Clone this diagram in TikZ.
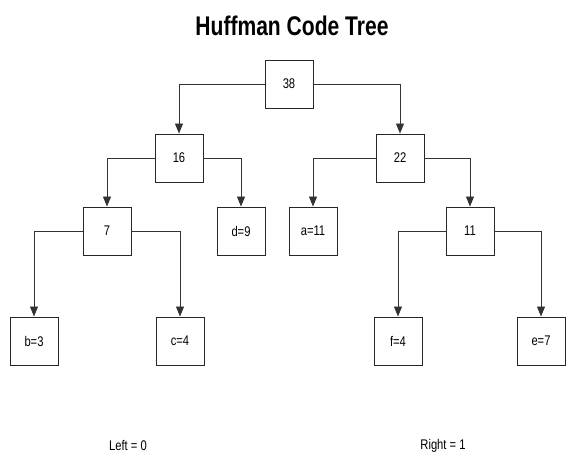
\documentclass[tikz,border=0pt]{standalone}
\usepackage{fontspec}
\usepackage{graphicx}
\setmainfont{Liberation Sans}
\usetikzlibrary{arrows.meta}
\tikzset{
  treebox/.style={draw=black!85, line width=0.9pt, minimum width=48pt, minimum height=48pt,
    inner sep=0pt, font=\fontsize{14}{14}\selectfont},
  link/.style={draw=black!80, line width=0.9pt, -{Triangle[length=10pt,width=8pt]}},
  note/.style={font=\fontsize{14}{14}\selectfont}
}
\newcommand{\narrow}[1]{\scalebox{0.8}[1]{#1}}
\begin{document}
\begin{tikzpicture}[x=1pt,y=-1pt]
  \useasboundingbox (0,0) rectangle (566,457);
  % title
  \node[font=\bfseries\fontsize{27}{27}\selectfont] (title) at (292,26) {\scalebox{0.78}[1]{Huffman Code Tree}};
  % tree nodes
  \node[treebox] (n38) at (289,84)  {\narrow{38}};
  \node[treebox] (n16) at (179,158) {\narrow{16}};
  \node[treebox] (n22) at (400,158) {\narrow{22}};
  \node[treebox] (n7)  at (107,231) {\narrow{7}};
  \node[treebox] (d)   at (241,231) {\narrow{d=9}};
  \node[treebox] (a)   at (313,231) {\narrow{a=11}};
  \node[treebox] (n11) at (470,231) {\narrow{11}};
  \node[treebox] (b)   at (34,341)  {\narrow{b=3}};
  \node[treebox] (c)   at (180,341) {\narrow{c=4}};
  \node[treebox] (f)   at (398,341) {\narrow{f=4}};
  \node[treebox] (e)   at (541,341) {\narrow{e=7}};
  % connectors
  \draw[link] (n38.west) -| (n16.north);
  \draw[link] (n38.east) -| (n22.north);
  \draw[link] (n16.west) -| (n7.north);
  \draw[link] (n16.east) -| (d.north);
  \draw[link] (n22.west) -| (a.north);
  \draw[link] (n22.east) -| (n11.north);
  \draw[link] (n7.west)  -| (b.north);
  \draw[link] (n7.east)  -| (c.north);
  \draw[link] (n11.west) -| (f.north);
  \draw[link] (n11.east) -| (e.north);
  % legend
  \node[note] (left)  at (128,446) {\narrow{Left = 0}};
  \node[note] (right) at (443,446) {\narrow{Right = 1}};
\end{tikzpicture}
\end{document}
